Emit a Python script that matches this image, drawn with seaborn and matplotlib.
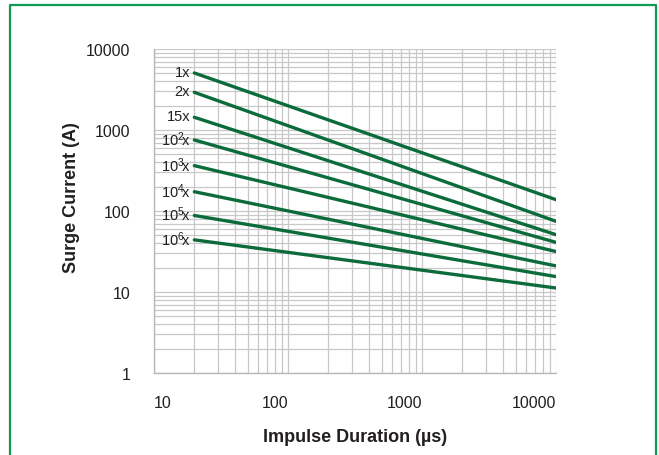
import matplotlib
matplotlib.use("Agg")
import matplotlib.pyplot as plt
import matplotlib.lines as mlines
import seaborn as sns
import pandas as pd
from matplotlib.ticker import LogLocator, NullFormatter, FixedLocator, FixedFormatter

# ---- data ----
series_labels = ["1x", "2x", "15x", r"10$^2\!$x", r"10$^3\!$x", r"10$^4\!$x", r"10$^5\!$x", r"10$^6\!$x"]
durations = [20, 10000]
current_at_20 = [5060, 2920, 1435, 753, 363, 173, 88, 44]
current_at_10000 = [138, 74.6, 51, 41, 31.6, 21, 15.5, 11.2]
x_ticks = [10, 100, 1000, 10000]
x_ticklabels = ["10", "100", "1000", "10000"]
y_ticks = [1, 10, 100, 1000, 10000]
y_ticklabels = ["1", "10", "100", "1000", "10000"]

rows = []
for lab, a, b in zip(series_labels, current_at_20, current_at_10000):
    rows.append({"series": lab, "duration": durations[0], "current": a})
    rows.append({"series": lab, "duration": durations[1], "current": b})
df = pd.DataFrame(rows)

sns.set_style("white")
fam = ["Liberation Sans", "DejaVu Sans"]
plt.rcParams["font.family"] = fam
plt.rcParams["mathtext.default"] = "regular"

line_color = "#0c6b3a"
grid_color = "#c8c8c8"
text_color = "#231f20"

fig = plt.figure(figsize=(6.59, 4.56), dpi=100)
ax = fig.add_axes([154 / 659, 1 - 374 / 456, (556 - 154) / 659, (374 - 50) / 456])

sns.lineplot(data=df, x="duration", y="current", hue="series",
             palette={s: line_color for s in series_labels}, legend=False,
             linewidth=2.4, ax=ax, zorder=3)

ax.set_xscale("log")
ax.set_yscale("log")
ax.set_xlim(10, 10000)
ax.set_ylim(1, 10000)

ax.xaxis.set_major_locator(FixedLocator(x_ticks))
ax.xaxis.set_major_formatter(FixedFormatter(x_ticklabels))
ax.yaxis.set_major_locator(FixedLocator(y_ticks))
ax.yaxis.set_major_formatter(FixedFormatter(y_ticklabels))
ax.xaxis.set_minor_locator(LogLocator(base=10, subs=range(2, 10)))
ax.yaxis.set_minor_locator(LogLocator(base=10, subs=range(2, 10)))
ax.xaxis.set_minor_formatter(NullFormatter())
ax.yaxis.set_minor_formatter(NullFormatter())

ax.grid(True, which="both", color=grid_color, linewidth=0.9)
ax.set_axisbelow(True)

for s in ["top", "right"]:
    ax.spines[s].set_visible(False)
for s in ["left", "bottom"]:
    ax.spines[s].set_color("#b8b8b8")
    ax.spines[s].set_linewidth(1.0)

ax.tick_params(axis="both", which="major", direction="out", length=7,
               color="#b8b8b8", width=1.0, labelsize=11.5, labelcolor=text_color)
ax.tick_params(axis="both", which="minor", length=0)
ax.tick_params(axis="x", pad=9)
ax.tick_params(axis="y", pad=10)

for i, t in enumerate(ax.get_xticklabels()):
    t.set_ha("left" if i == 0 else "right")

ax.set_xlabel("Impulse Duration (µs)", fontsize=13, fontweight="bold",
              color=text_color, va="center")
ax.set_ylabel("Surge Current (A)", fontsize=13, fontweight="bold",
              color=text_color, va="center")
ax.xaxis.set_label_coords(0.5, (374 - 438) / 324)
ax.yaxis.set_label_coords((72 - 154) / 402, (374 - 198) / 324)

for lab, a in zip(series_labels, current_at_20):
    ax.annotate(lab, xy=(durations[0], a), xytext=(-3, 1), textcoords="offset points",
                ha="right", va="center", fontsize=10.5, color=text_color)

# green frame around the figure (open at the bottom)
bx0, bx1, by_top = 10 / 659, 656 / 659, 1 - 6 / 456
frame = mlines.Line2D([bx0, bx0, bx1, bx1], [0, by_top, by_top, 0],
                      transform=fig.transFigure, color="#0f9a4f", linewidth=1.6)
fig.add_artist(frame)

fig.savefig("out.png", dpi=100, facecolor="white")
